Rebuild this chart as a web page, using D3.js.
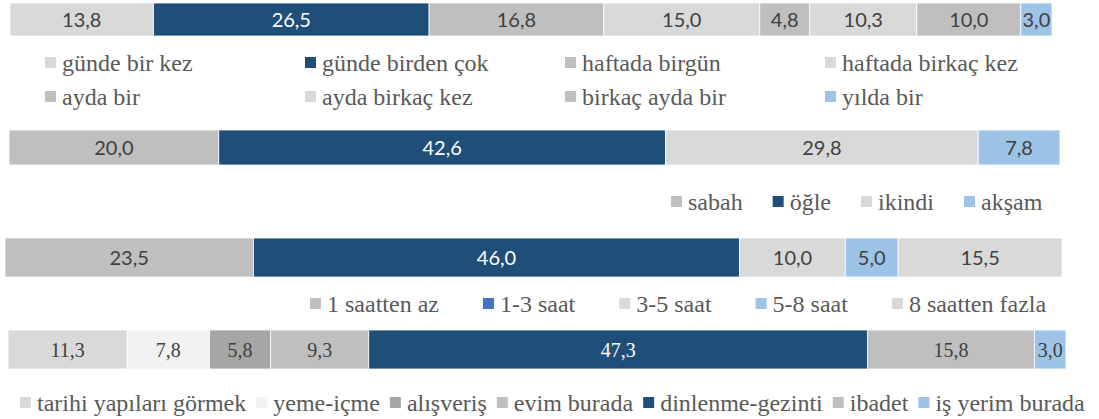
<!DOCTYPE html>
<html>
<head>
<meta charset="utf-8">
<script src="https://cdn.jsdelivr.net/npm/d3@7"></script>
<style>
  body { margin: 0; background: #fff; }
  text.serif { font-family: "Liberation Serif", Tinos, serif !important; }
  text.sans { font-family: Lato, sans-serif !important; }
</style>
</head>
<body>
<svg id="chart" width="1099" height="419"></svg>
<script>
// Ziyaret sıklığı
const frequencyLabels = ["günde bir kez", "günde birden çok", "haftada birgün", "haftada birkaç kez",
                         "ayda bir", "ayda birkaç kez", "birkaç ayda bir", "yılda bir"];
const frequencyValues = [13.8, 26.5, 16.8, 15.0, 4.8, 10.3, 10.0, 3.0];

// Ziyaret zamanı
const timeLabels = ["sabah", "öğle", "ikindi", "akşam"];
const timeValues = [20.0, 42.6, 29.8, 7.8];

// Kalış süresi
const durationLabels = ["1 saatten az", "1-3 saat", "3-5 saat", "5-8 saat", "8 saatten fazla"];
const durationValues = [23.5, 46.0, 10.0, 5.0, 15.5];

// Ziyaret amacı
const purposeLabels = ["tarihi yapıları görmek", "yeme-içme", "alışveriş", "evim burada",
                       "dinlenme-gezinti", "ibadet", "iş yerim burada"];
const purposeValues = [11.3, 7.8, 5.8, 9.3, 47.3, 15.8, 3.0];

// Palette
const LIGHT = "#D9D9D9", MID = "#BFBFBF", DARK = "#A6A6A6", PALE = "#F2F2F2",
      NAVY = "#1F4E79", SKY = "#9DC3E6", BLUE = "#4472C4";

const frequencyColors = [LIGHT, NAVY, MID, LIGHT, MID, LIGHT, MID, SKY];
const timeColors = [MID, NAVY, LIGHT, SKY];
const durationColors = [MID, NAVY, LIGHT, SKY, LIGHT];
const durationSwatches = [MID, BLUE, LIGHT, SKY, LIGHT];
const purposeColors = [LIGHT, PALE, DARK, MID, NAVY, MID, SKY];

const SANS = "Lato";
const SERIF = "Liberation Serif";

const svg = d3.select("#chart");

// One 100% stacked bar with centred value labels
function stackedBar(values, colors, box, face, labelSize) {
  const x = d3.scaleLinear().domain([0, d3.sum(values)]).range([box.x0, box.x1]);
  const ends = d3.cumsum(values);
  const segs = values.map((v, i) => ({ v, start: ends[i] - v, end: ends[i], color: colors[i] }));
  const g = svg.append("g");
  g.selectAll("rect").data(segs).join("rect")
    .attr("x", d => x(d.start))
    .attr("y", box.y)
    .attr("width", d => x(d.end) - x(d.start))
    .attr("height", box.h)
    .attr("fill", d => d.color)
    .attr("stroke", "#fff")
    .attr("stroke-width", 0.8);
  g.selectAll("text").data(segs).join("text")
    .attr("class", face === SERIF ? "serif" : "sans")
    .attr("x", d => x((d.start + d.end) / 2))
    .attr("y", box.y + box.h / 2 + labelSize * 0.35)
    .attr("text-anchor", "middle")
    .attr("font-family", face)
    .attr("font-size", labelSize)
    .attr("fill", d => d.color === NAVY ? "#ffffff" : "#404040")
    .text(d => d3.format(".1f")(d.v).replace(".", ","));
}

// Legend item: small square swatch followed by its label
function legendItem(g, label, color, x, baseline) {
  g.append("rect")
    .attr("x", x).attr("y", baseline - 14)
    .attr("width", 11).attr("height", 11)
    .attr("fill", color);
  return g.append("text")
    .attr("class", "serif")
    .attr("x", x + 17).attr("y", baseline)
    .attr("font-family", SERIF)
    .attr("font-size", 24)
    .attr("fill", "#595959")
    .text(label);
}

// Items laid out left to right with a fixed gap after each measured label
function legendFlow(labels, colors, x, baseline, gap) {
  const g = svg.append("g");
  let cx = x;
  labels.forEach((label, i) => {
    const t = legendItem(g, label, colors[i], cx, baseline);
    cx += 17 + t.node().getComputedTextLength() + gap;
  });
}

// Items in a fixed column grid
function legendGrid(labels, colors, x, baseline, colW, rowH, cols) {
  const g = svg.append("g");
  labels.forEach((label, i) => {
    legendItem(g, label, colors[i], x + (i % cols) * colW, baseline + Math.floor(i / cols) * rowH);
  });
}

stackedBar(frequencyValues, frequencyColors, { x0: 10, x1: 1052, y: 3, h: 33 }, SANS, 20);
legendGrid(frequencyLabels, frequencyColors, 45, 71, 260, 34, 4);

stackedBar(timeValues, timeColors, { x0: 9, x1: 1060, y: 130, h: 35 }, SANS, 20);
legendFlow(timeLabels, timeColors, 671, 210, 30);

stackedBar(durationValues, durationColors, { x0: 5, x1: 1062, y: 238, h: 39 }, SANS, 20);
legendFlow(durationLabels, durationSwatches, 310, 312, 44);

stackedBar(purposeValues, purposeColors, { x0: 8, x1: 1066, y: 330, h: 39 }, SERIF, 20);
legendFlow(purposeLabels, purposeColors, 20, 411, 10);
</script>
</body>
</html>
